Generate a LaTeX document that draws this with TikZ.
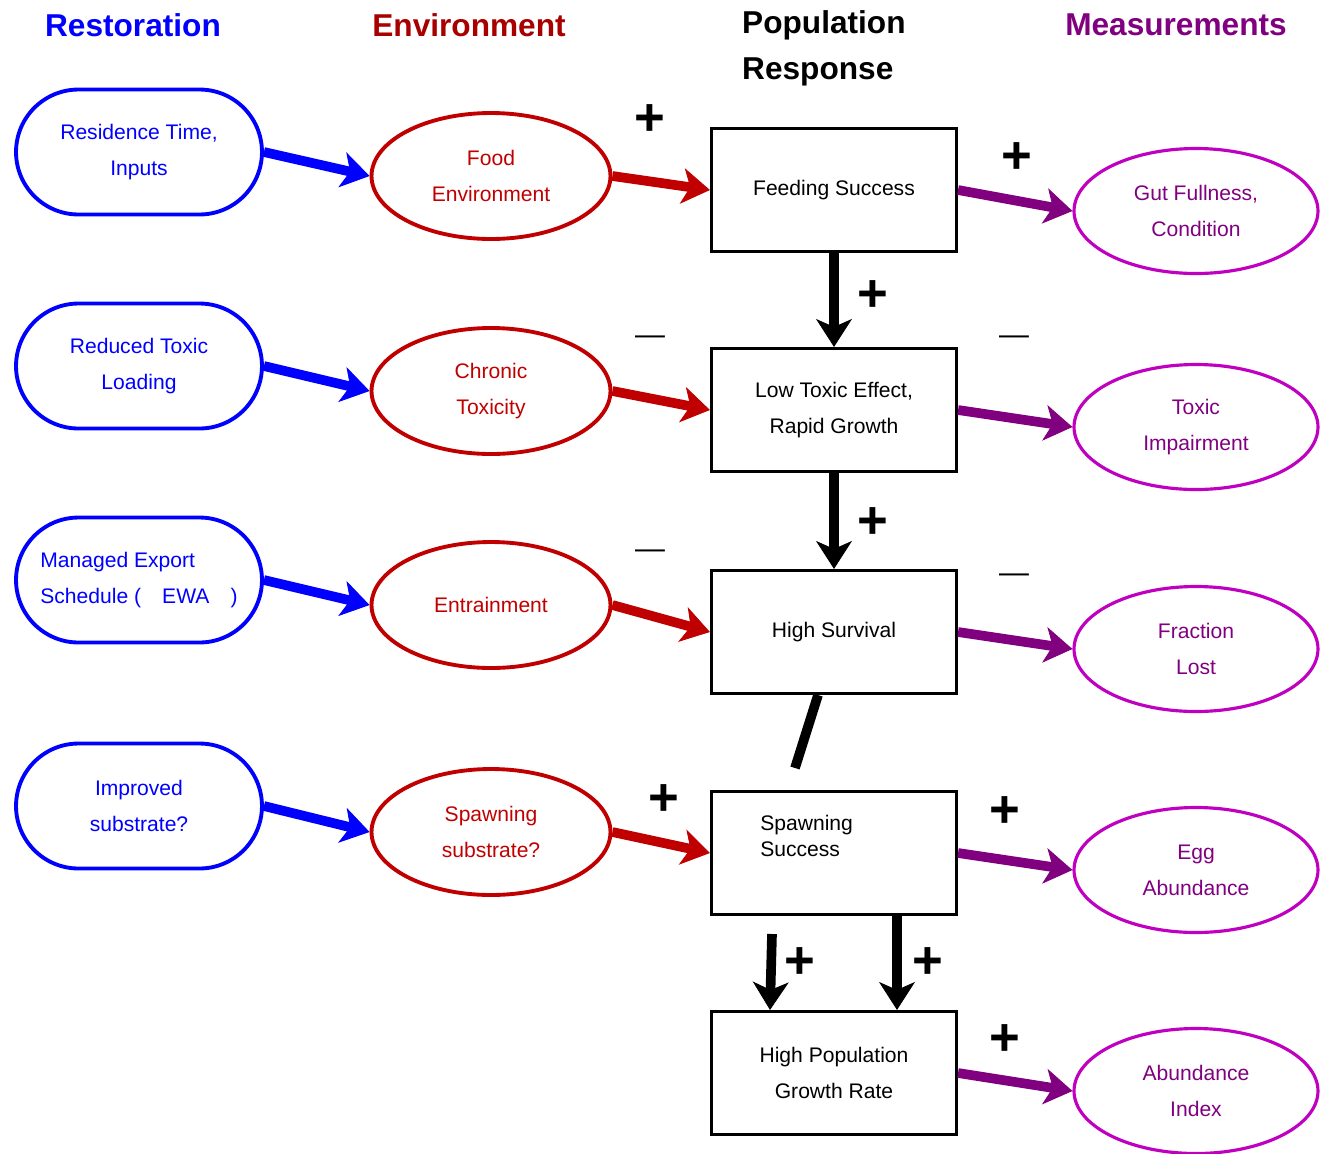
\documentclass[tikz,border=0pt]{standalone}
\usepackage{fontspec}
\setmainfont{Liberation Sans}
\usetikzlibrary{
  arrows.meta,
  shapes.geometric,
  shapes.misc,
  calc
}
\definecolor{rsblue}    {HTML}{0000FF}
\definecolor{envred}    {HTML}{C00000}
\definecolor{envdark}   {HTML}{A80000}
\definecolor{msmagenta} {HTML}{C000C0}
\definecolor{mspurple}  {HTML}{800080}

\begin{document}
\begin{tikzpicture}[
  x=0.02cm, y=-0.02cm,
  every node/.style={font=\fontsize{12}{20.5}\selectfont},
  header/.style={font=\fontsize{18}{26}\selectfont\bfseries},
  restore/.style={
    rounded rectangle, minimum width=4.92cm, minimum height=2.5cm,
    draw=rsblue, line width=2.2pt, text=rsblue, align=center, inner sep=0pt
  },
  env/.style={
    ellipse, minimum width=4.78cm, minimum height=2.52cm,
    draw=envred, line width=2.2pt, text=envred, align=center, inner sep=0pt
  },
  resp/.style={
    rectangle, minimum width=4.9cm, minimum height=2.46cm,
    draw, line width=1.8pt, align=center
  },
  meas/.style={
    ellipse, minimum width=4.88cm, minimum height=2.5cm,
    draw=msmagenta, line width=1.8pt, text=mspurple, align=center, inner sep=0pt
  },
  arr/.style={-{Stealth[length=0.56cm, width=0.72cm, inset=0.16cm, line width=0.5pt]},
              line width=5.5pt},
  plus/.style={font=\fontsize{30}{30}\selectfont\bfseries},
  minus/.style={font=\fontsize{17}{17}\selectfont}
]
\useasboundingbox (0,0) rectangle (1330,1154);

% Headers
\node[header, text=rsblue] (hrestore) at (133,25) {Restoration};
\node[header, text=envdark] (henv) at (469,25) {Environment};
\node[header, align=left, anchor=west] (hresp) at (736,48) {Population\\Response};
\node[header, text=mspurple] (hmeas) at (1176,25) {Measurements};

% Restoration
\node[restore] (rtime) at (139,152) {Residence Time,\\Inputs};
\node[restore] (rtoxic) at (139,366) {Reduced Toxic\\Loading};
\node[restore, align=left] (rexport) at (139,580) {Managed Export\\Schedule (\quad EWA\quad)};
\node[restore] (rsubst) at (139,806) {Improved\\substrate?};

% Environment
\node[env] (efood) at (491,176) {Food\\Environment};
\node[env] (etoxic) at (491,391) {Chronic\\Toxicity};
\node[env] (eentrain) at (491,605) {Entrainment};
\node[env] (esubst) at (491,832) {Spawning\\substrate?};

% Population Response
\node[resp] (pfeed) at (834,190) {Feeding Success};
\node[resp] (pgrowth) at (834,410) {Low Toxic Effect,\\Rapid Growth};
\node[resp] (psurv) at (834,632) {High Survival};
\node[resp] (pspawn) at (834,853) {};
\node[align=left, anchor=north west, inner sep=0pt, font=\fontsize{12}{14.5}\selectfont]
  (pspawntext) at (760,815) {Spawning\\Success};
\node[resp] (prate) at (834,1073) {High Population\\Growth Rate};

% Measurements
\node[meas] (mgut) at (1196,211) {Gut Fullness,\\Condition};
\node[meas] (mtoxic) at (1196,427) {Toxic\\Impairment};
\node[meas] (mfrac) at (1196,649) {Fraction\\Lost};
\node[meas] (megg) at (1196,870) {Egg\\Abundance};
\node[meas] (mindex) at (1196,1091) {Abundance\\Index};

% Arrows
\foreach \r/\e/\p/\m in {rtime/efood/pfeed/mgut, rtoxic/etoxic/pgrowth/mtoxic,
                         rexport/eentrain/psurv/mfrac, rsubst/esubst/pspawn/megg} {
  \draw[arr, rsblue] (\r.east) -- (\e.west);
  \draw[arr, envred] (\e.east) -- (\p.west);
  \draw[arr, mspurple] (\p.east) -- (\m.west);
}
\draw[arr, mspurple] (prate.east) -- (mindex.west);

\draw[arr] (pfeed.south) -- (pgrowth.north);
\draw[arr] (pgrowth.south) -- (psurv.north);
\coordinate (cut) at (795,768);
\draw[line width=5.5pt] ($(psurv.south)+(-16,0)$) -- (cut);
\coordinate (spawnleft) at (772,934);
\draw[arr] (spawnleft) -- ($(prate.north)+(-64,0)$);
\draw[arr] ($(pspawn.south)+(63,0)$) -- ($(prate.north)+(63,0)$);

% Signs
\node[plus] (s1) at (650,120) {+};
\node[plus] (s2) at (1017,158) {+};
\node[plus] (s3) at (873,296) {+};
\node[plus] (s4) at (873,523) {+};
\node[plus] (s5) at (664,800) {+};
\node[plus] (s6) at (1005,812) {+};
\node[plus] (s7) at (800,963) {+};
\node[plus] (s8) at (928,963) {+};
\node[plus] (s9) at (1005,1040) {+};
\node[minus] (m1) at (650,340) {\textemdash};
\node[minus] (m2) at (1014,340) {\textemdash};
\node[minus] (m3) at (650,554) {\textemdash};
\node[minus] (m4) at (1014,578) {\textemdash};

\end{tikzpicture}
\end{document}
